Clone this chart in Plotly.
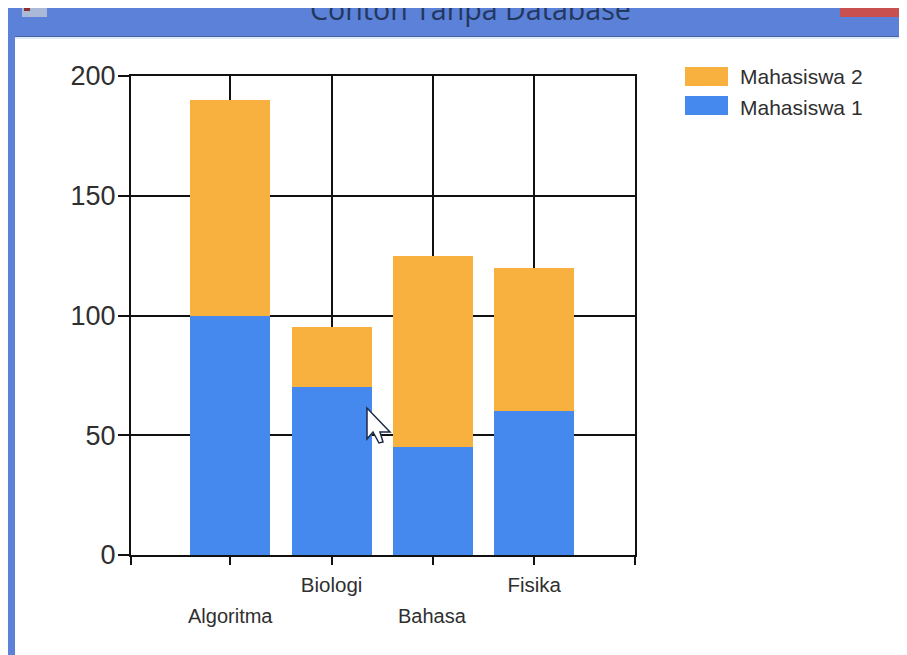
import plotly.graph_objects as go

# The page body has an 8px margin, so the figure starts at page (8, 8)
# and runs past the window so the caption band reaches the right edge.
OFF = 8
PAGE_W, PAGE_H = 907, 655
W, H = PAGE_W, PAGE_H - OFF
L, R, T, B = 131, 635, 76, 555
X_MIN, X_MAX = -0.98, 3.995

categories = ["Algoritma", "Biologi", "Bahasa", "Fisika"]
mahasiswa_1 = [100, 70, 45, 60]
mahasiswa_2 = [90, 25, 80, 60]
series_names = ["Mahasiswa 1", "Mahasiswa 2"]
y_ticks = [0, 50, 100, 150, 200]
window_title = "Contoh Tanpa Database"

ORANGE = "#F8B03E"
BLUE = "#4588EE"
BAND = "#5B82D8"
TXT = "#2f2f2f"
FONT = "Liberation Sans"

def px(x): return (x - OFF) / W
def py(y): return 1 - (y - OFF) / H
def rect(x0, y0, x1, y1, color):
    return dict(type="rect", xref="paper", yref="paper", x0=px(x0), x1=px(x1),
                y0=py(y1), y1=py(y0), fillcolor=color, line_width=0, layer="below")

positions = list(range(len(categories)))
fig = go.Figure()
fig.add_bar(x=positions, y=mahasiswa_1, marker_color=BLUE, marker_line_width=0,
            width=0.79, name=series_names[0])
fig.add_bar(x=positions, y=mahasiswa_2, marker_color=ORANGE, marker_line_width=0,
            width=0.79, name=series_names[1])

shapes = [
    rect(8, 8, PAGE_W + OFF, 37, BAND),
    rect(8, 8, 15, PAGE_H, BAND),
    rect(15, 36, PAGE_W + OFF, 37, "#4a6296"),
    rect(15, 37, PAGE_W + OFF, 39, "#dcebfb"),
    rect(840, 8, PAGE_W + OFF, 17, "#C8504E"),
    rect(22, 8, 47, 17, "#aab9d8"),
    rect(24, 8, 30, 11, "#8a3030"),
    # the reference's legend swatches are wider than plotly's bar swatch
    rect(685, 67, 728, 86, ORANGE),
    rect(685, 96, 728, 115, BLUE),
]
cursor = [(367, 408), (367, 439), (373, 432), (379, 443), (383, 442), (380, 432), (390, 432)]
path = "M " + " L ".join(f"{px(a)},{py(b)}" for a, b in cursor) + " Z"
shapes.append(dict(type="path", xref="paper", yref="paper", path=path, fillcolor="white",
                   line=dict(color="#1c2a44", width=1.5), layer="above"))

annotations = [
    dict(text=categories[i], x=i, xref="x", y=py(616), yref="paper", showarrow=False,
         font=dict(family=FONT, size=20, color=TXT), xanchor="center", yanchor="middle")
    for i in (0, 2)
]
annotations.append(dict(text=window_title, x=px(470), y=py(8), xref="paper", yref="paper",
                        showarrow=False, xanchor="center", yanchor="middle",
                        font=dict(family="Open Sans", size=28.6, color="#23375f")))

fig.update_layout(
    width=W, height=H, margin=dict(l=0, r=0, t=0, b=0),
    paper_bgcolor="white", plot_bgcolor="white", barmode="stack",
    shapes=shapes, annotations=annotations,
    font=dict(family=FONT, color=TXT),
    legend=dict(x=px(680), y=py(56), xanchor="left", yanchor="top",
                itemwidth=50, font=dict(family=FONT, size=21, color=TXT),
                bgcolor="rgba(0,0,0,0)"),
    xaxis=dict(domain=[px(L), px(R)], range=[X_MIN, X_MAX], tickmode="array",
               tickvals=[X_MIN, 0, 1, 2, 3, X_MAX],
               ticktext=["", "", categories[1], "", categories[3], ""],
               ticks="outside", ticklen=8, tickwidth=2, tickcolor="#111",
               tickfont=dict(family=FONT, size=20.5, color=TXT), ticklabelstandoff=2,
               showgrid=True, gridcolor="#111", gridwidth=2, automargin=False,
               showline=True, linecolor="#111", linewidth=2, mirror=True, zeroline=False),
    yaxis=dict(domain=[py(B), py(T)], range=[0, 200], tickmode="array",
               tickvals=y_ticks, ticks="outside", ticklen=11, tickwidth=2, tickcolor="#111",
               tickfont=dict(family=FONT, size=27, color=TXT), automargin=False,
               ticklabelstandoff=-3,
               showgrid=True, gridcolor="#111", gridwidth=2,
               showline=True, linecolor="#111", linewidth=2, mirror=True, zeroline=False),
)
fig.write_html("out.html")
